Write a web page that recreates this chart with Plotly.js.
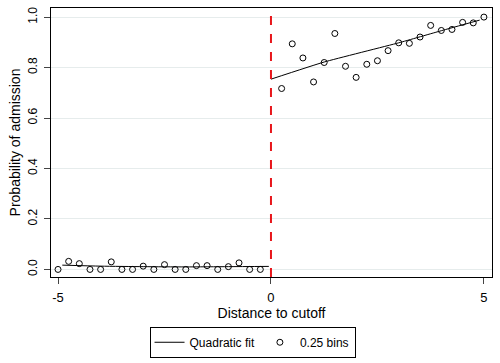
<!DOCTYPE html>
<html><head><meta charset="utf-8">
<script src="https://cdn.plot.ly/plotly-3.0.1.min.js"></script>
<style>html,body{margin:0;padding:0;background:#fff}</style>
</head><body><div id="chart" style="width:500px;height:363px"></div>
<script>
// Binned means (0.25 bins)
const binsLeftX = [-5,-4.75,-4.5,-4.25,-4,-3.75,-3.5,-3.25,-3,-2.75,-2.5,-2.25,-2,-1.75,-1.5,-1.25,-1,-0.75,-0.5,-0.25];
const binsLeftY = [0,0.032,0.023,0,0,0.03,0,0,0.013,0,0.019,0,0,0.015,0.015,0,0.011,0.026,0,0];
const binsRightX = [0.25,0.5,0.75,1,1.25,1.5,1.75,2,2.25,2.5,2.75,3,3.25,3.5,3.75,4,4.25,4.5,4.75,5];
const binsRightY = [0.717,0.894,0.838,0.743,0.820,0.935,0.805,0.761,0.813,0.827,0.867,0.898,0.896,0.921,0.967,0.947,0.951,0.979,0.977,1.0];
// Quadratic fit
const fitLeftX = [-4.9,-4,-3,-2,-1,-0.05];
const fitLeftY = [0.017,0.013,0.011,0.010,0.011,0.012];
const fitRightX = [0,1.25,3,4,4.9];
const fitRightY = [0.754,0.822,0.898,0.946,0.988];
const xTicks = [-5,0,5];
const yTicks = [0,0.2,0.4,0.6,0.8,1.0];
const cutoff = 0;

const traces = [
  {x: fitLeftX, y: fitLeftY, mode:'lines', line:{color:'#000', width:1, shape:'spline', smoothing:0.6}, name:'Quadratic fit', legendgroup:'fit'},
  {x: fitRightX, y: fitRightY, mode:'lines', line:{color:'#000', width:1, shape:'spline', smoothing:0.4}, name:'Quadratic fit', legendgroup:'fit', showlegend:false},
  {x: binsLeftX.concat([null]).concat(binsRightX), y: binsLeftY.concat([null]).concat(binsRightY), mode:'markers',
   marker:{symbol:'circle-open', size:6, color:'#000', line:{width:1, color:'#000'}}, name:'0.25 bins'}
];
const layout = {
  width:500, height:363,
  margin:{l:51, r:8, t:8, b:86, autoexpand:false},
  paper_bgcolor:'#fff', plot_bgcolor:'#fff',
  font:{family:'Liberation Sans, Arial, sans-serif', size:12, color:'#000'},
  showlegend:true,
  legend:{orientation:'h', x:0.457, xanchor:'center', y:-0.185, yanchor:'top',
          bordercolor:'#000', borderwidth:1, font:{size:12}},
  xaxis:{range:[-5.165,5.19], tickvals:xTicks, ticktext:xTicks.map(String), ticks:'outside', ticklen:6,
         ticklabelstandoff:2, tickfont:{size:13}, automargin:false,
         showgrid:false, zeroline:false, showline:true, linecolor:'#000', linewidth:1, mirror:true,
         title:{text:'Distance to cutoff', standoff:0}},
  yaxis:{range:[-0.03,1.036], tickvals:yTicks, ticktext:yTicks.map(v=>v.toFixed(1)), ticks:'outside', ticklen:6,
         ticklabelstandoff:2, tickfont:{size:12}, automargin:false,
         tickangle:-90, showgrid:true, gridcolor:'#e6ecec', zeroline:false, showline:true, linecolor:'#000', linewidth:1, mirror:true,
         title:{text:'Probability of admission', standoff:2}},
  shapes:[{type:'line', xref:'x', yref:'paper', x0:cutoff, x1:cutoff, y0:0, y1:1, line:{color:'#e8161b', width:2, dash:'dash'}}]
};
Plotly.newPlot('chart', traces, layout, {displayModeBar:false, staticPlot:true});
</script></body></html>
